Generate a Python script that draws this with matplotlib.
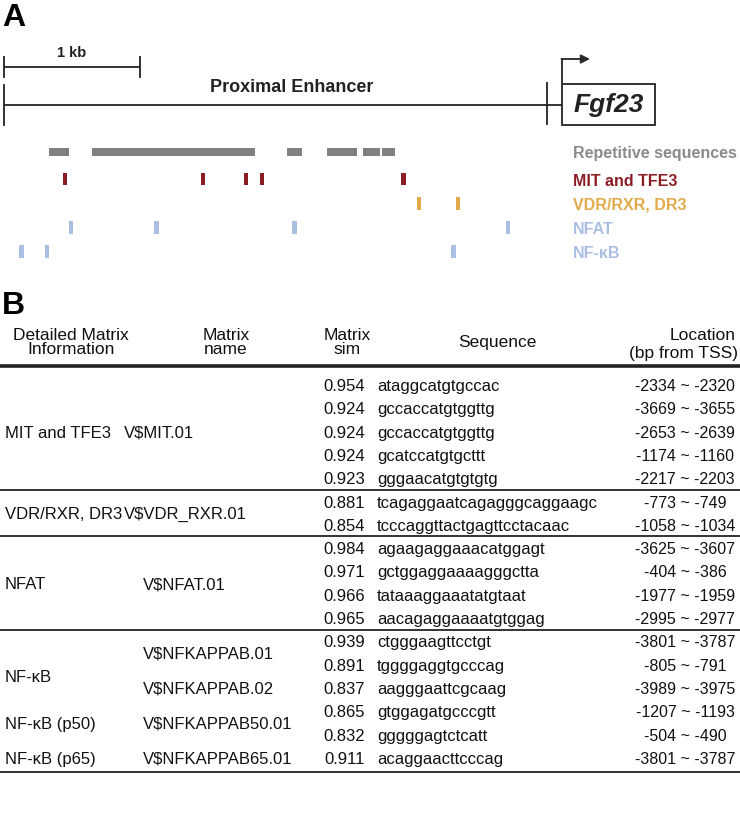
import matplotlib
matplotlib.use('Agg')
import matplotlib.pyplot as plt
from matplotlib.patches import Rectangle

plt.rcParams['font.family'] = ['Liberation Sans', 'DejaVu Sans']

# ---------------- Panel A data (bp from TSS) ----------------
rep_start = [-3786, -3469, -2032, -1738, -1472, -1332]
rep_end = [-3639, -2268, -1922, -1517, -1347, -1237]
mit_sites = [-3669, -2653, -2334, -2217, -1174]
vdr_sites = [-1058, -773]
nfat_sites = [-3625, -2995, -1977, -404]
nfkb_sites = [-3989, -3801, -805]
track_labels = ['Repetitive sequences', 'MIT and TFE3', 'VDR/RXR, DR3', 'NFAT', 'NF-\u03baB']
track_colors = ['#8a8a8a', '#8c1d25', '#e2aa4c', '#aabfe2', '#aabfe2']
scale_kb = 1000

# ---------------- Panel B data ----------------
header_cols = ['Detailed Matrix\nInformation', 'Matrix\nname', 'Matrix\nsim', 'Sequence']
loc_header = ['Location', '(bp from TSS)']
info_names = ['MIT and TFE3', 'VDR/RXR, DR3', 'NFAT', 'NF-\u03baB', 'NF-\u03baB (p50)', 'NF-\u03baB (p65)']
info_rowpos = [2, 5.5, 8.5, 12.5, 14.5, 16]
matrix_names = ['V$MIT.01', 'V$VDR_RXR.01', 'V$NFAT.01', 'V$NFKAPPAB.01', 'V$NFKAPPAB.02',
                'V$NFKAPPAB50.01', 'V$NFKAPPAB65.01']
matrix_rowpos = [2, 5.5, 8.5, 11.5, 13, 14.5, 16]
sims = ['0.954', '0.924', '0.924', '0.924', '0.923', '0.881', '0.854', '0.984', '0.971',
        '0.966', '0.965', '0.939', '0.891', '0.837', '0.865', '0.832', '0.911']
sequences = ['ataggcatgtgccac', 'gccaccatgtggttg', 'gccaccatgtggttg', 'gcatccatgtgcttt',
             'gggaacatgtgtgtg', 'tcagaggaatcagagggcaggaagc', 'tcccaggttactgagttcctacaac',
             'agaagaggaaacatggagt', 'gctggaggaaaagggctta', 'tataaaggaaatatgtaat',
             'aacagaggaaaatgtggag', 'ctgggaagttcctgt', 'tggggaggtgcccag', 'aagggaattcgcaag',
             'gtggagatgcccgtt', 'gggggagtctcatt', 'acaggaacttcccag']
locations = ['-2334 ~ -2320', '-3669 ~ -3655', '-2653 ~ -2639', '-1174 ~ -1160',
             '-2217 ~ -2203', '-773 ~ -749', '-1058 ~ -1034', '-3625 ~ -3607', '-404 ~ -386',
             '-1977 ~ -1959', '-2995 ~ -2977', '-3801 ~ -3787', '-805 ~ -791',
             '-3989 ~ -3975', '-1207 ~ -1193', '-504 ~ -490', '-3801 ~ -3787']
group_breaks = [5, 7, 11]   # separator lines before these rows

W, H = 740, 830
fig = plt.figure(figsize=(W / 100, H / 100), dpi=100)

# pixel-coordinate axes for layout
axp = fig.add_axes([0, 0, 1, 1])
axp.set_xlim(0, W)
axp.set_ylim(H, 0)
axp.axis('off')

# genomic axes: x in bp from TSS, y in pixels
px_per_bp = 0.1357
tss_px = 562.8
axg = fig.add_axes([0, 0, 1, 1], facecolor='none')
axg.set_xlim(-tss_px / px_per_bp, (W - tss_px) / px_per_bp)
axg.set_ylim(H, 0)
axg.axis('off')

dark = '#2b2b2b'
lw = 1.35

# ---- Panel A ----
axp.text(2, 26, 'A', fontsize=23, fontweight='bold', ha='left', va='baseline')

# scale bar
sb0 = (4 - tss_px) / px_per_bp
axg.plot([sb0, sb0 + scale_kb], [67, 67], color=dark, lw=lw)
axg.plot([sb0, sb0], [57, 77], color=dark, lw=lw)
axg.plot([sb0 + scale_kb, sb0 + scale_kb], [57, 77], color=dark, lw=lw)
axg.text(sb0 + scale_kb / 2, 57, '1 kb', fontsize=10.5, fontweight='bold',
         ha='center', va='baseline', color='#222222')

# enhancer line
axp.plot([4, 562], [105, 105], color=dark, lw=lw)
axp.plot([4, 4], [85, 125], color=dark, lw=lw)
axp.plot([547, 547], [83, 124], color=dark, lw=lw)
axp.text(292, 92, 'Proximal Enhancer', fontsize=13, fontweight='bold',
         ha='center', va='baseline', color='#222222')

# Fgf23 box + arrow
axp.add_patch(Rectangle((562, 84), 93, 41, fill=False, ec=dark, lw=lw))
axp.text(608.5, 112, 'Fgf23', fontsize=19, fontweight='bold', fontstyle='italic',
         ha='center', va='baseline', color='#222222')
axp.plot([562, 562], [84, 59], color=dark, lw=lw)
axp.annotate('', xy=(590, 59), xytext=(561.4, 59),
             arrowprops=dict(arrowstyle='-|>', color=dark, lw=lw, mutation_scale=13,
                             shrinkA=0, shrinkB=0))

# tracks
for s, e in zip(rep_start, rep_end):
    axg.bar(s, 8, width=e - s, bottom=148, align='edge', color='#808080', lw=0)
site_tracks = [(mit_sites, 173, track_colors[1]), (vdr_sites, 197, track_colors[2]),
               (nfat_sites, 221, track_colors[3]), (nfkb_sites, 245, track_colors[4])]
for sites, y0, col in site_tracks:
    axg.bar(sites, 12.5, width=33, bottom=y0, align='center', color=col, lw=0)

label_y = [152, 179.5, 203.5, 227.5, 251.5]
for lab, y, col in zip(track_labels, label_y, track_colors):
    axp.text(573, y, lab, fontsize=11.5, fontweight='bold', color=col,
             ha='left', va='center_baseline')

# ---- Panel B ----
axp.text(2, 314, 'B', fontsize=23, fontweight='bold', ha='left', va='baseline')

fs = 12
hfs = 12.5
tc = '#111111'
head_x = [71, 226, 347, 497]
for txt, x in zip(header_cols, head_x):
    axp.text(x, 342.5, txt, fontsize=hfs, ha='center', va='center', color=tc,
             linespacing=0.95)
axp.text(703, 334, loc_header[0], fontsize=hfs, ha='center', va='center_baseline', color=tc)
axp.text(738, 352, loc_header[1], fontsize=hfs, ha='right', va='center_baseline', color=tc)

axp.plot([0, W], [366, 366], color='#222222', lw=2.6, solid_capstyle='butt')

row0 = 385
pitch = 23.3
def ry(i):
    return row0 + i * pitch

for i, (s, q, loc) in enumerate(zip(sims, sequences, locations)):
    y = ry(i)
    axp.text(365, y, s, fontsize=fs, ha='right', va='center_baseline', color=tc)
    axp.text(377, y, q, fontsize=fs, ha='left', va='center_baseline', color=tc)
    axp.text(685, y, loc, fontsize=11.5, ha='center', va='center_baseline', color=tc)

for name, p in zip(info_names, info_rowpos):
    axp.text(5, ry(p), name, fontsize=fs, ha='left', va='center_baseline', color=tc)
for k, (name, p) in enumerate(zip(matrix_names, matrix_rowpos)):
    x = 124 if k < 2 else 143
    axp.text(x, ry(p), name, fontsize=fs, ha='left', va='center_baseline', color=tc,
             parse_math=False)

for b in group_breaks:
    y = (ry(b - 1) + ry(b)) / 2
    axp.plot([0, W], [y, y], color='#333333', lw=1.4, solid_capstyle='butt')
yb = ry(len(sims) - 1) + 14
axp.plot([0, W], [yb, yb], color='#333333', lw=1.4, solid_capstyle='butt')

fig.savefig('out.png', dpi=100)
